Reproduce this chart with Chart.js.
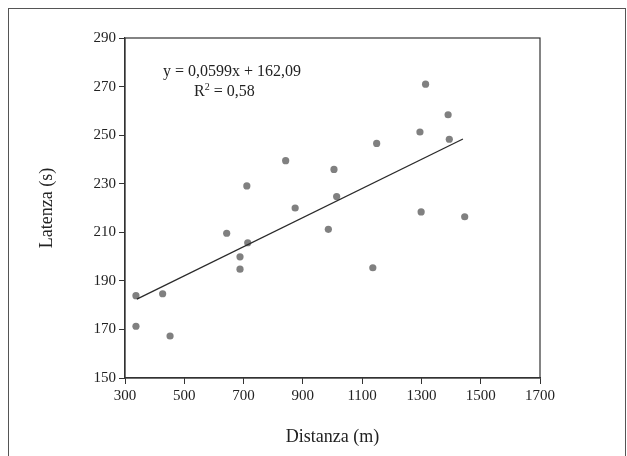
<!DOCTYPE html>
<html>
<head>
<meta charset="utf-8">
<script src="https://cdn.jsdelivr.net/npm/chart.js@4.4.0/dist/chart.umd.min.js"></script>
<style>
  html, body { margin: 0; padding: 0; background: #fff; overflow: hidden; }
  #wrap { position: relative; width: 627px; height: 456px; }
  #frame { position: absolute; left: 8px; top: 8px; width: 618px; height: 470px; border: 1.5px solid #555; box-sizing: border-box; pointer-events: none; }
  canvas { position: absolute; left: 0; top: 0; }
</style>
</head>
<body>
<div id="wrap">
  <div id="frame"></div>
  <canvas id="myChart" width="627" height="456"></canvas>
</div>
<script>
// distanza (m) e latenza (s)
const distanza = [337, 337, 427, 452, 643, 688, 688, 711, 714, 842, 874, 986, 1005, 1014, 1136, 1149, 1295, 1299, 1314, 1390, 1394, 1446];
const latenza = [183.9, 171.3, 184.7, 167.3, 209.6, 199.9, 194.8, 229.1, 205.7, 239.5, 220, 211.2, 235.9, 224.7, 195.4, 246.6, 251.3, 218.4, 271, 258.4, 248.3, 216.4];

// estremi della retta di tendenza
const trendX = [340, 1440];
const trendY = [182.5, 248.4];

const xTicks = [300, 500, 700, 900, 1100, 1300, 1500, 1700];
const yTicks = [150, 170, 190, 210, 230, 250, 270, 290];

const serif = "'Liberation Serif', 'Times New Roman', serif";

const points = distanza.map((d, i) => ({ x: d, y: latenza[i] }));
const trend = trendX.map((d, i) => ({ x: d, y: trendY[i] }));

// bordo dell'area del grafico + equazione
const boxPlugin = {
  id: 'box',
  afterDraw(chart) {
    const { ctx, chartArea } = chart;
    ctx.save();
    ctx.strokeStyle = '#333';
    ctx.lineWidth = 1.2;
    ctx.strokeRect(chartArea.left, chartArea.top, chartArea.right - chartArea.left, chartArea.bottom - chartArea.top);

    ctx.fillStyle = '#222';
    ctx.textBaseline = 'middle';
    ctx.font = '16px ' + serif;
    ctx.textAlign = 'left';
    ctx.fillText('y = 0,0599x + 162,09', 163, 72);

    let x = 194;
    ctx.fillText('R', x, 92);
    x += ctx.measureText('R').width;
    ctx.font = '10px ' + serif;
    ctx.fillText('2', x, 87);
    x += ctx.measureText('2').width;
    ctx.font = '16px ' + serif;
    ctx.fillText(' = 0,58', x, 92);
    ctx.restore();
  }
};

const chartData = {
  datasets: [
    {
      type: 'scatter',
      label: 'Latenza',
      data: points,
      backgroundColor: '#808080',
      borderColor: '#808080',
      pointRadius: 3.6,
      pointBorderWidth: 0,
      order: 2
    },
    {
      type: 'line',
      label: 'Tendenza',
      data: trend,
      borderColor: '#2a2a2a',
      borderWidth: 1.3,
      pointRadius: 0,
      fill: false,
      order: 1
    }
  ]
};

const chartConfig = {
  type: 'scatter',
  data: chartData,
  options: {
    responsive: false,
    animation: false,
    layout: { padding: { left: 32, top: 38, right: 87, bottom: 4 } },
    plugins: { legend: { display: false }, tooltip: { enabled: false } },
    scales: {
      x: {
        type: 'linear',
        min: 300,
        max: 1700,
        afterBuildTicks: (axis) => { axis.ticks = xTicks.map(v => ({ value: v })); },
        afterFit: (axis) => { axis.height = 74; },
        grid: { drawOnChartArea: false, drawTicks: true, tickLength: 6, tickColor: '#333' },
        border: { display: true, color: '#333', width: 1.2 },
        ticks: { color: '#222', padding: 3, maxRotation: 0, font: { family: serif, size: 15 }, callback: (v) => String(v) },
        title: { display: true, text: 'Distanza (m)', color: '#222', font: { family: serif, size: 18 } }
      },
      y: {
        type: 'linear',
        min: 150,
        max: 290,
        afterBuildTicks: (axis) => { axis.ticks = yTicks.map(v => ({ value: v })); },
        afterFit: (axis) => { axis.width = 93; },
        grid: { drawOnChartArea: false, drawTicks: true, tickLength: 6, tickColor: '#333' },
        border: { display: true, color: '#333', width: 1.2 },
        ticks: { color: '#222', padding: 3, font: { family: serif, size: 15 }, callback: (v) => String(v) },
        title: { display: true, text: 'Latenza (s)', color: '#222', font: { family: serif, size: 18 } }
      }
    }
  },
  plugins: [boxPlugin]
};

const canvas = document.getElementById('myChart');
new Chart(canvas, chartConfig);
</script>
</body>
</html>
